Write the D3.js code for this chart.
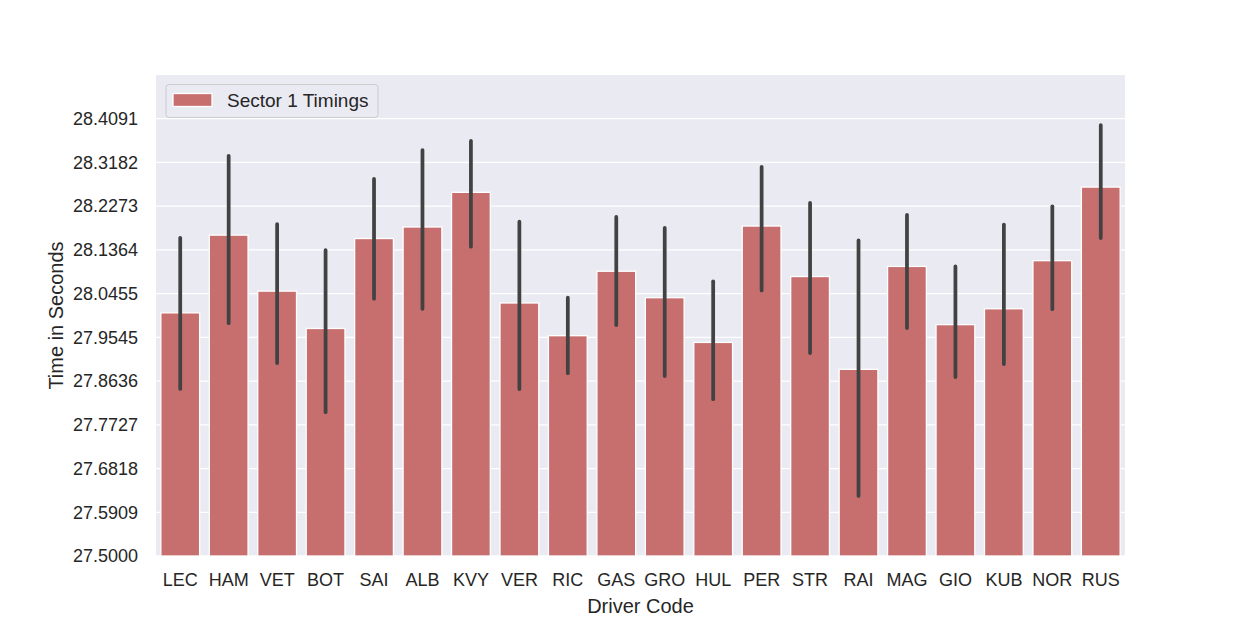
<!DOCTYPE html>
<html>
<head>
<meta charset="utf-8">
<script src="https://cdn.jsdelivr.net/npm/d3@7"></script>
<style>
  body { margin: 0; background: #fff; }
  svg { display: block; font-family: "Liberation Sans", Arial, sans-serif; }
</style>
</head>
<body>
<svg id="chart" width="1250" height="625"></svg>
<script>
// driver codes, mean sector 1 time and the 95% ci limits
const drivers = ['LEC', 'HAM', 'VET', 'BOT', 'SAI', 'ALB', 'KVY', 'VER', 'RIC', 'GAS',
  'GRO', 'HUL', 'PER', 'STR', 'RAI', 'MAG', 'GIO', 'KUB', 'NOR', 'RUS'];
const means = [28.0055, 28.1671, 28.0507, 27.973, 28.160, 28.184, 28.256, 28.026, 27.958, 28.092,
  28.037, 27.944, 28.186, 28.081, 27.888, 28.102, 27.981, 28.014, 28.114, 28.267];
const ciHigh = [28.1614, 28.332, 28.190, 28.136, 28.284, 28.344, 28.363, 28.195, 28.037, 28.205,
  28.182, 28.071, 28.309, 28.234, 28.156, 28.209, 28.102, 28.189, 28.227, 28.396];
const ciLow = [27.8474, 27.984, 27.901, 27.799, 28.035, 28.014, 28.143, 27.847, 27.880, 27.980,
  27.874, 27.826, 28.052, 27.922, 27.625, 27.974, 27.872, 27.899, 28.013, 28.161];
const yTicks = [27.5, 27.5909, 27.6818, 27.7727, 27.8636, 27.9545, 28.0455, 28.1364, 28.2273, 28.3182, 28.4091];
const seriesName = 'Sector 1 Timings';

const margin = {top: 75, right: 125, bottom: 69, left: 156};
const width = 1250 - margin.left - margin.right;
const height = 625 - margin.top - margin.bottom;
const barColor = '#c76e6e';
const textColor = '#262626';

const svg = d3.select('#chart');
const g = svg.append('g')
  .attr('transform', 'translate(' + margin.left + ',' + margin.top + ')');

const x = d3.scaleBand().domain(drivers).range([0, width]).paddingInner(0.2).paddingOuter(0.1);
const y = d3.scaleLinear().domain([27.5, 28.5]).range([height, 0]);

g.append('rect')
  .attr('width', width)
  .attr('height', height)
  .attr('fill', '#eaeaf2');

// horizontal grid
g.selectAll('line.grid')
  .data(yTicks)
  .enter()
  .append('line')
  .attr('class', 'grid')
  .attr('x1', 0).attr('x2', width)
  .attr('y1', d => y(d)).attr('y2', d => y(d))
  .attr('stroke', '#fff')
  .attr('stroke-width', 1.3);

g.selectAll('rect.bar')
  .data(drivers)
  .enter()
  .append('rect')
  .attr('class', 'bar')
  .attr('x', d => x(d))
  .attr('width', x.bandwidth())
  .attr('y', (d, i) => y(means[i]))
  .attr('height', (d, i) => height - y(means[i]))
  .attr('fill', barColor)
  .attr('stroke', '#fff')
  .attr('stroke-width', 1.3);

g.selectAll('line.err')
  .data(drivers)
  .enter()
  .append('line')
  .attr('class', 'err')
  .attr('x1', d => x(d) + x.bandwidth() / 2)
  .attr('x2', d => x(d) + x.bandwidth() / 2)
  .attr('y1', (d, i) => y(ciLow[i]))
  .attr('y2', (d, i) => y(ciHigh[i]))
  .attr('stroke', '#424242')
  .attr('stroke-width', 3.75)
  .attr('stroke-linecap', 'round');

// axes, no tick marks as in seaborn darkgrid
const yAxis = g.append('g')
  .call(d3.axisLeft(y).tickValues(yTicks).tickFormat(d3.format('.4f')).tickSize(0).tickPadding(18));
const xAxis = g.append('g')
  .attr('transform', 'translate(0,' + height + ')')
  .call(d3.axisBottom(x).tickSize(0).tickPadding(17));
[yAxis, xAxis].forEach(a => {
  a.select('.domain').remove();
  a.selectAll('text').attr('font-size', '18px').attr('fill', textColor)
    .attr('font-family', '"Liberation Sans", Arial, sans-serif');
});

svg.append('text')
  .attr('x', margin.left + width / 2)
  .attr('y', 613)
  .attr('text-anchor', 'middle')
  .attr('font-size', '20px')
  .attr('fill', textColor)
  .text('Driver Code');

svg.append('text')
  .attr('transform', 'translate(63,' + (margin.top + height / 2) + ') rotate(-90)')
  .attr('text-anchor', 'middle')
  .attr('font-size', '20px')
  .attr('fill', textColor)
  .text('Time in Seconds');

// legend
const legend = g.append('g').attr('transform', 'translate(10,9.5)');
legend.append('rect')
  .attr('width', 212).attr('height', 33)
  .attr('rx', 3)
  .attr('fill', '#eaeaf2')
  .attr('stroke', '#cccccc')
  .attr('stroke-width', 1);
legend.append('rect')
  .attr('x', 7).attr('y', 9)
  .attr('width', 39).attr('height', 13)
  .attr('fill', barColor)
  .attr('stroke', '#fff')
  .attr('stroke-width', 1.3);
legend.append('text')
  .attr('x', 61).attr('y', 22)
  .attr('font-size', '19px')
  .attr('fill', textColor)
  .text(seriesName);
</script>
</body>
</html>
